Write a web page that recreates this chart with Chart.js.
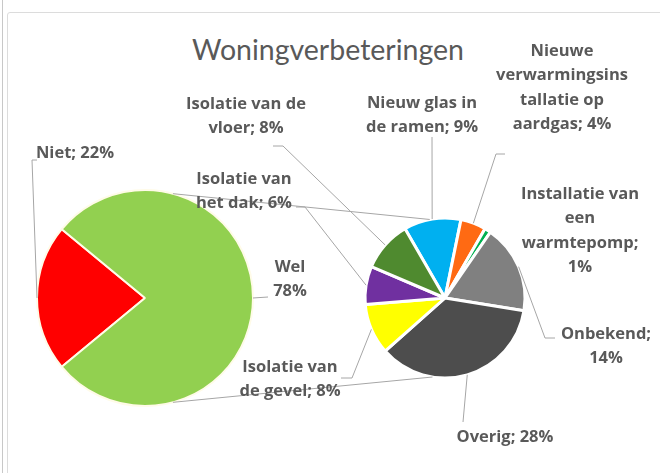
<!DOCTYPE html>
<html>
<head>
<meta charset="utf-8">
<script src="https://cdn.jsdelivr.net/npm/chart.js@4.4.0/dist/chart.umd.min.js"></script>
<style>
  html, body { margin: 0; padding: 0; background: #fff; }
  #wrap { position: relative; width: 660px; height: 473px; overflow: hidden; }
  .edge { position: absolute; left: 2px; top: 0; width: 1px; height: 473px; background: #c8c8c8; }
  .frame { position: absolute; left: 7px; top: 12px; width: 680px; height: 480px; border: 1px solid #dcdcdc; border-radius: 3px; }
  #title { position: absolute; left: 0; top: 32px; width: 656px; text-align: center; font: 28.5px Lato, sans-serif; color: #595959; }
  canvas { position: absolute; left: 0; top: 0; }
</style>
</head>
<body>
<div id="wrap">
  <div class="edge"></div>
  <div class="frame"></div>
  <div id="title">Woningverbeteringen</div>
  <canvas id="main" width="660" height="473"></canvas>
  <canvas id="detail" width="660" height="473"></canvas>
</div>
<script>
// first pie: did people improve their home
const mainLabels = ['Niet', 'Wel'];
const mainValues = [22, 78];
const mainColors = ['#ff0000', '#92d050'];

// second pie: what was done (splits up "Wel")
const detailLabels = [
  'Nieuw glas in de ramen',
  'Nieuwe verwarmingsinstallatie op aardgas',
  'Installatie van een warmtepomp',
  'Onbekend',
  'Overig',
  'Isolatie van de gevel',
  'Isolatie van het dak',
  'Isolatie van de vloer'
];
const detailValues = [9, 4, 1, 14, 28, 8, 6, 8];
const detailColors = ['#00b0f0', '#ff6a13', '#00b050', '#808080', '#4d4d4d', '#ffff00', '#7030a0', '#4f8a2f'];

const TEXT = '#595959';
const LINE = '#a6a6a6';

// label placement (centre x, y of first line, where to break the text, leader path)
const mainLayout = [
  { x: 75, y: 153, cuts: [], sep: '; ', path: [[32, 160], [37, 160]] },
  { x: 290, y: 267, cuts: [3], sep: ' ', path: [[268, 297]] }
];
const detailLayout = [
  { x: 422, y: 103, cuts: [13], path: [[432, 137]] },
  { x: 562, y: 51, cuts: [6, 21, 32], path: [[496, 154], [505, 154]] },
  { x: 580, y: 194, cuts: [15, 19, 31], path: null },
  { x: 606, y: 334, cuts: [9], path: [[545, 338], [555, 338]] },
  { x: 505, y: 437, cuts: [], path: [[463, 422]] },
  { x: 290, y: 367, cuts: [12], path: [[352, 378], [341, 378]] },
  { x: 244, y: 179, cuts: [12], path: [[305, 207], [296, 207]] },
  { x: 246, y: 104, cuts: [15], path: [[283, 146], [273, 146]] }
];

function splitAt(text, cuts) {
  const out = [];
  let from = 0;
  cuts.forEach(c => { out.push(text.slice(from, c).trim()); from = c; });
  out.push(text.slice(from).trim());
  return out;
}

function midPoint(arc) {
  const a = (arc.startAngle + arc.endAngle) / 2;
  return [arc.x + Math.cos(a) * arc.outerRadius, arc.y + Math.sin(a) * arc.outerRadius];
}

function pointAt(arc, deg) {
  const a = (deg - 90) * Math.PI / 180;
  return [arc.x + Math.cos(a) * arc.outerRadius, arc.y + Math.sin(a) * arc.outerRadius];
}

function polyline(ctx, pts) {
  ctx.beginPath();
  ctx.moveTo(pts[0][0], pts[0][1]);
  pts.slice(1).forEach(p => ctx.lineTo(p[0], p[1]));
  ctx.stroke();
}

function drawLabels(ctx, arcs, labels, values, layout, sepDefault) {
  arcs.forEach((arc, i) => {
    const l = layout[i];
    if (l.path) polyline(ctx, [midPoint(arc)].concat(l.path));
    const text = labels[i] + (l.sep || sepDefault) + values[i] + '%';
    splitAt(text, l.cuts).forEach((line, k) => {
      ctx.fillText(line, l.x, l.y + k * 24.5);
    });
  });
}

let mainChart;

const labelPlugin = {
  id: 'pieLabels',
  afterDraw(chart) {
    const ctx = chart.ctx;
    const mainArcs = mainChart.getDatasetMeta(0).data;
    const detailArcs = chart.getDatasetMeta(0).data;
    ctx.save();
    ctx.strokeStyle = LINE;
    ctx.lineWidth = 1;
    // series lines between both pies
    polyline(ctx, [pointAt(mainArcs[1], 15), pointAt(detailArcs[0], -11)]);
    polyline(ctx, [pointAt(mainArcs[1], 165), pointAt(detailArcs[0], 189)]);
    ctx.font = 'bold 16.5px "Open Sans", sans-serif';
    ctx.fillStyle = TEXT;
    ctx.textAlign = 'center';
    ctx.textBaseline = 'middle';
    drawLabels(ctx, mainArcs, mainLabels, mainValues, mainLayout, '; ');
    drawLabels(ctx, detailArcs, detailLabels, detailValues, detailLayout, '; ');
    ctx.restore();
  }
};

const common = {
  responsive: false,
  animation: false,
  plugins: { legend: { display: false }, tooltip: { enabled: false } }
};

mainChart = new Chart(document.getElementById('main'), {
  type: 'pie',
  data: {
    labels: mainLabels,
    datasets: [{ data: mainValues, backgroundColor: mainColors, borderColor: '#fffbe8', borderWidth: 2 }]
  },
  options: Object.assign({}, common, {
    rotation: 230.4,
    radius: 108,
    layout: { padding: { left: 37, right: 407, top: 190, bottom: 67 } }
  })
});

new Chart(document.getElementById('detail'), {
  type: 'pie',
  data: {
    labels: detailLabels,
    datasets: [{ data: detailValues, backgroundColor: detailColors, borderColor: '#ffffff', borderWidth: 3 }]
  },
  options: Object.assign({}, common, {
    rotation: -30,
    radius: 80,
    layout: { padding: { left: 365, right: 135, top: 218, bottom: 95 } }
  }),
  plugins: [labelPlugin]
});
</script>
</body>
</html>
